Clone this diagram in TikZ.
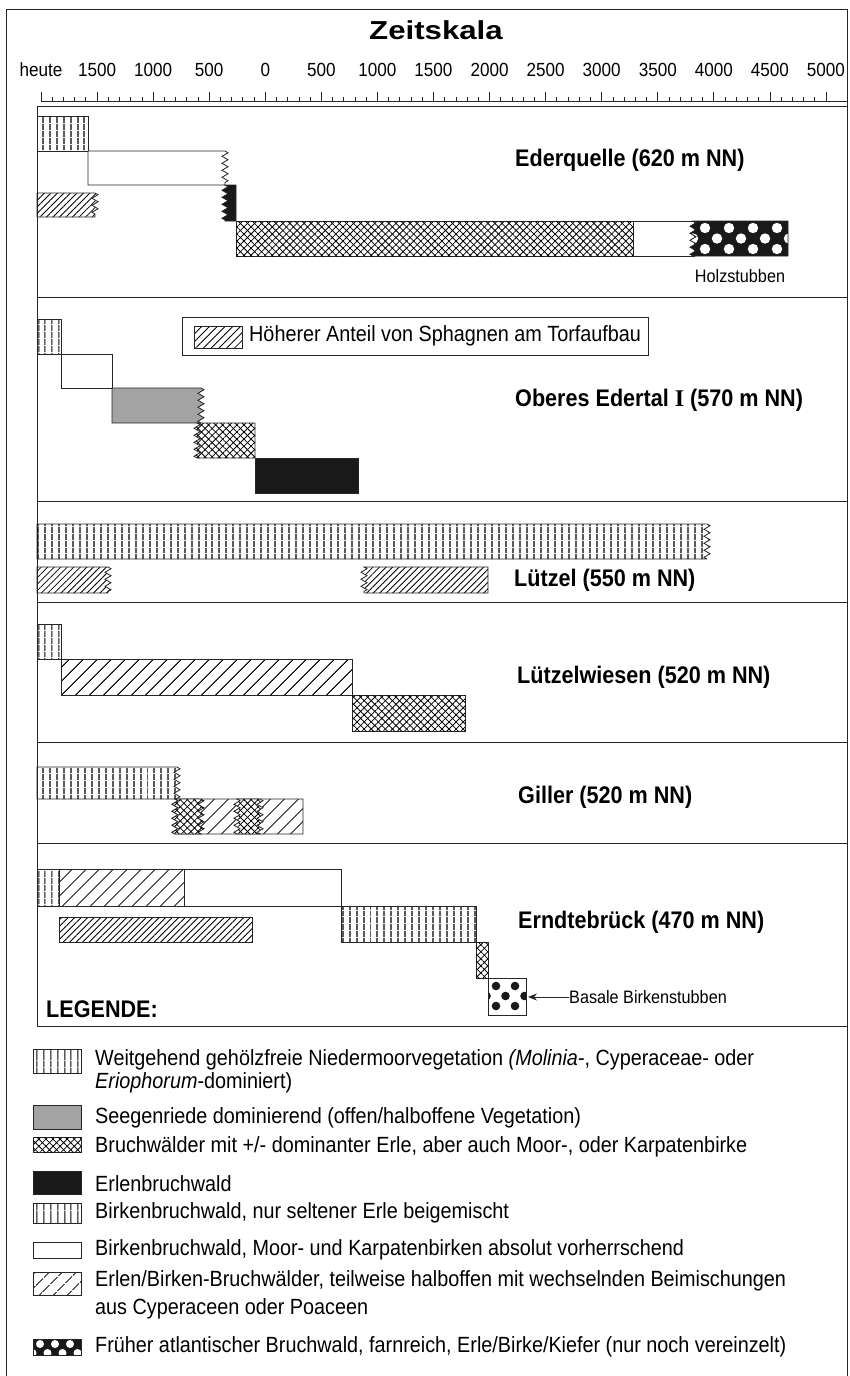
\documentclass[tikz,border=0pt]{standalone}
\usepackage{fontspec}
\setmainfont[FakeStretch=0.9]{Liberation Sans}
\newfontfamily\titelfont[FakeStretch=1.2]{Liberation Sans}
\newfontfamily\serifI{Liberation Serif}
\usetikzlibrary{arrows.meta,positioning,patterns.meta,decorations.pathmorphing}

% Stubben: Kreise im Versatz (Mitte, dx, dy, Reihen, Radius, Farbe)
\newcommand{\stubben}[7]{%
  \foreach \r in {0,...,#5}
    \foreach \c in {-1,...,6}
      \fill[#7] ({#1+(\c)*#3+mod(\r,2)*#3/2},{#2+(\r)*#4}) circle (#6pt);}

\begin{document}
\begin{tikzpicture}[x=1pt, y=-1pt, >={Stealth[length=9pt,width=7pt]},
  rand/.style={draw=black!85, line width=0.8pt},
  vlin/.style={rand, pattern color=black, pattern={Lines[angle=90,distance=6.5pt,line width=1.2pt]}},
  xhatch/.style={rand, preaction={fill=white}, pattern color=black,
    pattern={Lines[angle=45,distance=5pt,line width=0.8pt]},
    postaction={pattern color=black, pattern={Lines[angle=-45,distance=5pt,line width=0.8pt]}}},
  dfein/.style={rand, pattern color=black, pattern={Lines[angle=45,distance=4.6pt,line width=0.85pt]}},
  dgrob/.style={rand, preaction={fill=white}, pattern color=black, pattern={Lines[angle=45,distance=10.5pt,line width=1pt]}},
  grau/.style={rand, fill=black!36},
  schwarz/.style={rand, fill=black!90},
  weiss/.style={rand, fill=white},
  zz/.style={decoration={zigzag, segment length=7pt, amplitude=3pt}},
  lab/.style={anchor=west, inner sep=0pt, font=\bfseries\fontsize{24}{28}\selectfont},
  txt/.style={anchor=west, inner sep=0pt, font=\fontsize{22}{24}\selectfont},
  klein/.style={inner sep=0pt, font=\fontsize{18}{21}\selectfont}]
  \useasboundingbox (0,0) rectangle (850,1376);

  % Rahmen und Zeitskala
  \draw[rand] (6,1380) -- (6,9) -- (847,9) -- (847,1380);
  \node (titel) at (436,30) {\titelfont\bfseries\fontsize{26}{30}\selectfont Zeitskala};
  \draw[rand] (41,101) -- (848,101);
  \foreach \i in {1,...,70} \draw[rand] ({41+\i*11.214},97) -- ++(0,4);
  \foreach \t [count=\i from 0] in {heute,1500,1000,500,0,500,1000,1500,2000,2500,3000,3500,4000,4500,5000} {
    \draw[rand] ({41+\i*56.07},92) -- ++(0,9);
    \node[font=\fontsize{19}{22}\selectfont] (s\i) at ({41+\i*56.07},70) {\t};
  }

  \draw[rand] (37,106) rectangle (847,1026);
  \foreach \y in {297,501,602,742,843} \draw[rand] (37,\y) -- (847,\y);

  % Ederquelle
  \draw[vlin] (37,116) rectangle (88,151);
  \draw[weiss] (225,151) decorate[zz]{-- (225,185)} -- (88,185) -- (88,151) -- cycle;
  \draw[dfein] (95,193) decorate[zz]{-- (95,217)} -- (37,217) -- (37,193) -- cycle;
  \draw[schwarz] (225,185) decorate[zz]{-- (225,221)} -- (236,221) -- (236,185) -- cycle;
  \draw[xhatch] (236,221) rectangle (633,256);
  \draw[weiss] (633,221) rectangle (694,256);
  \begin{scope}
    \clip (693,221) decorate[zz]{-- (693,256)} -- (788,256) -- (788,221) -- cycle;
    \fill[black!90] (680,215) rectangle (790,260);
    \stubben{705}{228}{24}{10.5}{2}{5.2}{white}
  \end{scope}
  \draw[rand] (693,221) decorate[zz]{-- (693,256)} -- (788,256) -- (788,221) -- cycle;
  \node[klein] (holz) at (740,276) {Holzstubben};
  \node[lab] (eder) at (515,160) {Ederquelle (620 m NN)};

  % Oberes Edertal
  \draw[rand, fill=white] (182,317) rectangle (648,355);
  \draw[rand, pattern color=black, pattern={Lines[angle=45,distance=5.5pt,line width=0.85pt]}] (194,326) rectangle (242,348);
  \node[txt] (sph) at (249,336) {Höherer Anteil von Sphagnen am Torfaufbau};
  \draw[vlin] (37,319) rectangle (61,354);
  \draw[weiss] (61,354) rectangle (112,388);
  \draw[grau] (201,388) decorate[zz]{-- (201,423)} -- (112,423) -- (112,388) -- cycle;
  \draw[xhatch] (197,423) decorate[zz]{-- (197,458)} -- (255,458) -- (255,423) -- cycle;
  \draw[schwarz] (255,458) rectangle (358,493);
  \node[lab] (ober) at (515,400) {Oberes Edertal {\serifI I} (570 m NN)};

  % Luetzel
  \draw[vlin] (707,524) decorate[zz]{-- (707,559)} -- (37,559) -- (37,524) -- cycle;
  \draw[dfein] (108,567) decorate[zz]{-- (108,593)} -- (37,593) -- (37,567) -- cycle;
  \draw[dfein] (364,567) decorate[zz]{-- (364,593)} -- (488,593) -- (488,567) -- cycle;
  \node[lab] (luetzel) at (514,580) {Lützel (550 m NN)};

  % Luetzelwiesen
  \draw[vlin] (37,624) rectangle (61,659);
  \draw[dgrob] (61,659) rectangle (352,695);
  \draw[xhatch] (352,695) rectangle (465,731);
  \node[lab] (lwiesen) at (517,677) {Lützelwiesen (520 m NN)};

  % Giller
  \draw[vlin] (177,767) decorate[zz]{-- (177,799)} -- (37,799) -- (37,767) -- cycle;
  \draw[dgrob] (175,799) decorate[zz]{-- (175,834)} -- (303,834) -- (303,799) -- cycle;
  \draw[xhatch] (175,799) decorate[zz]{-- (175,834)} -- (201,834) decorate[zz]{-- (201,799)} -- cycle;
  \draw[xhatch] (237,799) decorate[zz]{-- (237,834)} -- (260,834) decorate[zz]{-- (260,799)} -- cycle;
  \node[lab] (giller) at (518,797) {Giller (520 m NN)};

  % Erndtebrueck
  \draw[vlin] (37,869) rectangle (59,906);
  \draw[dgrob] (59,869) rectangle (184,906);
  \draw[weiss] (184,869) rectangle (341,906);
  \draw[dfein] (59,917) rectangle (252,942);
  \draw[vlin] (341,906) rectangle (476,942);
  \draw[xhatch] (476,942) rectangle (488,978);
  \begin{scope}
    \clip (488,978) rectangle (526,1015);
    \stubben{496}{986}{19}{10}{2}{4.3}{black!90}
  \end{scope}
  \draw[rand] (488,978) rectangle (526,1015);
  \coordinate (stubben) at (528,997);
  \node[klein, anchor=west] (basal) at (569,997) {Basale Birkenstubben};
  \draw[rand, ->] (basal) -- (stubben);
  \node[lab] (erndte) at (518,922) {Erndtebrück (470 m NN)};
  \node[lab] (legende) at (46,1009) {LEGENDE:};

  % Legende
  \draw[vlin] (33,1049) rectangle (81,1073);
  \node[txt] (l1) at (95,1060) {Weitgehend gehölzfreie Niedermoorvegetation \textit{(Molinia-}, Cyperaceae- oder};
  \node[txt] (l1b) at (95,1083) {\textit{Eriophorum}-dominiert)};
  \draw[grau] (33,1105) rectangle (81,1129);
  \node[txt] (l2) at (95,1118) {Seegenriede dominierend (offen/halboffene Vegetation)};
  \draw[xhatch] (33,1137) rectangle (81,1152);
  \node[txt] (l3) at (95,1147) {Bruchwälder mit +/- dominanter Erle, aber auch Moor-, oder Karpatenbirke};
  \draw[schwarz] (33,1171) rectangle (81,1194);
  \node[txt] (l4) at (95,1184) {Erlenbruchwald};
  \draw[vlin] (33,1203) rectangle (81,1223);
  \node[txt] (l5) at (95,1213) {Birkenbruchwald, nur seltener Erle beigemischt};
  \draw[weiss] (33,1242) rectangle (81,1258);
  \node[txt] (l6) at (95,1250) {Birkenbruchwald, Moor- und Karpatenbirken absolut vorherrschend};
  \draw[dgrob] (33,1272) rectangle (81,1295);
  \node[txt] (l7) at (95,1281) {Erlen/Birken-Bruchwälder, teilweise halboffen mit wechselnden Beimischungen};
  \node[txt] (l7b) at (95,1309) {aus Cyperaceen oder Poaceen};
  \begin{scope}
    \clip (33,1339) rectangle (81,1355);
    \fill[black!90] (30,1335) rectangle (85,1360);
    \stubben{32.5}{1335}{15}{9}{2}{4}{white}
  \end{scope}
  \draw[rand] (33,1339) rectangle (81,1355);
  \node[txt] (l8) at (95,1347) {Früher atlantischer Bruchwald, farnreich, Erle/Birke/Kiefer (nur noch vereinzelt)};
\end{tikzpicture}
\end{document}
